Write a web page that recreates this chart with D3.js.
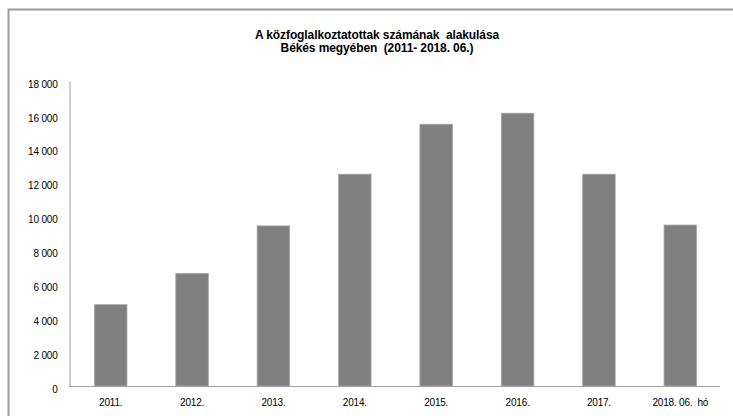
<!DOCTYPE html>
<html>
<head>
<meta charset="utf-8">
<script src="https://cdn.jsdelivr.net/npm/d3@7"></script>
<style>
  body { margin: 0; background: #fff; }
  svg { display: block; font-family: "Liberation Sans", Arial, sans-serif; }
</style>
</head>
<body>
<div id="chart"></div>
<script>
// data
var years = ["2011.", "2012.", "2013.", "2014.", "2015.", "2016.", "2017.", "2018. 06.  hó"]
var workers = [4800, 6650, 9450, 12500, 15450, 16100, 12500, 9500]
var yTicks = [0, 2000, 4000, 6000, 8000, 10000, 12000, 14000, 16000, 18000]
var titleLines = ["A közfoglalkoztatottak számának  alakulása", "Békés megyében  (2011- 2018. 06.)"]

var width = 733
    height = 416

var svg = d3.select("#chart")
    .append("svg")
        .attr("width", width)
        .attr("height", height)

// outer frame of the chart, it runs off the right and bottom edge
svg.append("rect")
    .attr("x", 8.5)
    .attr("y", 9.5)
    .attr("width", 760)
    .attr("height", 430)
    .attr("fill", "none")
    .attr("stroke", "#9a9a9a")
    .attr("stroke-width", 2)

// title, two lines
svg.append("g")
    .selectAll("text")
    .data(titleLines)
    .enter()
    .append("text")
        .attr("x", 377)
        .attr("y", function(d, i) { return 39 + i * 12.5 })
        .attr("text-anchor", "middle")
        .attr("font-size", "12px")
        .attr("font-weight", "bold")
        .attr("letter-spacing", "-0.1px")
        .style("white-space", "pre")
        .text(function(d) { return d })

var x = d3.scaleBand()
    .domain(years)
    .range([70, 721])
    .paddingInner(0.6)
    .paddingOuter(0.3)

var y = d3.scaleLinear()
    .domain([0, 18000])
    .range([386, 81])

// bars
svg.append("g")
    .selectAll("rect")
    .data(workers)
    .enter()
    .append("rect")
        .attr("x", function(d, i) { return x(years[i]) })
        .attr("y", function(d) { return y(d) })
        .attr("width", x.bandwidth())
        .attr("height", function(d) { return y(0) - y(d) })
        .attr("fill", "#808080")
        .attr("stroke", "#a8a8a8")
        .attr("stroke-width", 0.8)

// y axis: line only, labels without ticks
var yAxis = svg.append("g")
    .attr("transform", "translate(69.5,0)")
    .call(d3.axisLeft(y)
        .tickValues(yTicks)
        .tickSize(0)
        .tickPadding(12)
        .tickFormat(function(d) { return d3.format(",")(d).replace(",", " ") }))
yAxis.select(".domain").attr("stroke", "#a0a0a0")
yAxis.selectAll("text")
    .attr("font-family", "Liberation Sans, Arial, sans-serif")
    .attr("font-size", "10px")
    .attr("fill", "#000")
    .attr("dy", "0.62em")
    .attr("letter-spacing", "-0.2px")

// x axis
var xAxis = svg.append("g")
    .attr("transform", "translate(0,386.5)")
    .call(d3.axisBottom(x).tickSize(0).tickPadding(12))
xAxis.select(".domain").attr("stroke", "#a0a0a0").attr("d", "M69,0H720")
xAxis.selectAll("text")
    .attr("font-family", "Liberation Sans, Arial, sans-serif")
    .attr("font-size", "10px")
    .attr("fill", "#000")
    .attr("letter-spacing", "-0.2px")
    .style("white-space", "pre")
</script>
</body>
</html>
